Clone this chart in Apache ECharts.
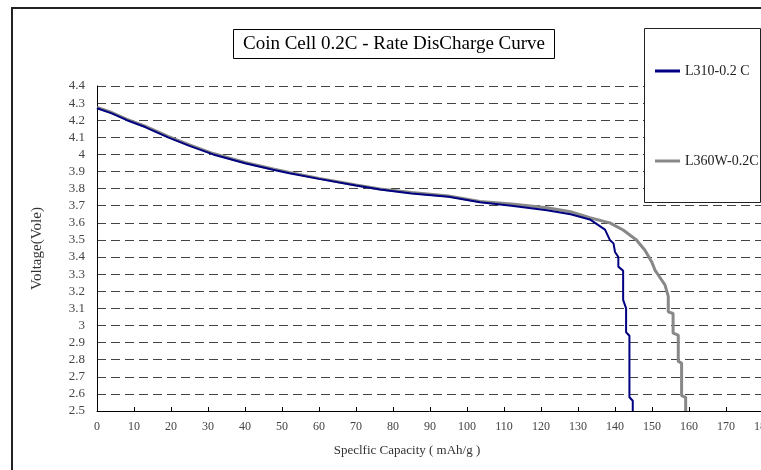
<!DOCTYPE html>
<html>
<head>
<meta charset="utf-8">
<script src="https://cdn.jsdelivr.net/npm/echarts@6/dist/echarts.min.js"></script>
<style>
  html, body { margin: 0; padding: 0; background: #fff; }
  #main { width: 761px; height: 470px; }
</style>
</head>
<body>
<div id="main"></div>
<script>
// 数据
var xTicks = [0, 180, 10];      // min, max, interval
var yTicks = [2.5, 4.4, 0.1];

var seriesNames = ['L310-0.2 C', 'L360W-0.2C'];

var l310Cap  = [0, 4, 8.1, 13, 19.2, 25, 31.4, 40, 47.6, 52, 60, 70, 76.5, 85, 95, 103.5, 112, 121.6, 128, 133.2, 137.3, 138.6, 139.6, 140, 140.9, 140.9, 142.2, 142.2, 143, 143, 143.9, 143.9, 144.8, 144.8];
var l310Volt = [4.27, 4.24, 4.2, 4.16, 4.1, 4.05, 4.0, 3.948, 3.91, 3.89, 3.857, 3.818, 3.795, 3.772, 3.752, 3.72, 3.70, 3.673, 3.65, 3.62, 3.56, 3.5, 3.48, 3.43, 3.40, 3.344, 3.32, 3.15, 3.10, 2.96, 2.94, 2.58, 2.56, 2.5];

var l360Cap  = [0, 4, 8.1, 13, 19.2, 25, 31.4, 40, 47.6, 52, 60, 70, 76.5, 85, 95, 103.5, 112, 121.6, 128, 133.2, 138.6, 142.2, 145.8, 148.1, 149.9, 150.8, 151.7, 152.6, 153.5, 154.4, 154.4, 155.7, 155.7, 157.1, 157.1, 158, 158, 159.1, 159.1];
var l360Volt = [4.275, 4.245, 4.205, 4.165, 4.105, 4.055, 4.005, 3.953, 3.915, 3.895, 3.86, 3.821, 3.798, 3.777, 3.757, 3.725, 3.71, 3.688, 3.665, 3.63, 3.6, 3.558, 3.5, 3.44, 3.373, 3.324, 3.295, 3.266, 3.237, 3.17, 3.08, 3.07, 2.955, 2.944, 2.79, 2.78, 2.59, 2.58, 2.5];

function pairs(xs, ys) {
    var out = [];
    for (var i = 0; i < xs.length; i++) {
        out.push([xs[i], ys[i]]);
    }
    return out;
}

var serif = '"Liberation Serif", "DejaVu Serif", serif';

var myChart = echarts.init(document.getElementById('main'));
var option = {
    backgroundColor: '#fff',
    animation: false,
    title: {
        text: 'Coin Cell 0.2C - Rate DisCharge Curve',
        left: 233,
        top: 29,
        padding: [5, 10, 4, 10],
        borderColor: '#000',
        borderWidth: 1,
        backgroundColor: '#fff',
        textStyle: {
            fontFamily: serif,
            fontSize: 19,
            fontWeight: 'normal',
            color: '#000',
            lineHeight: 21
        }
    },
    legend: {
        orient: 'vertical',
        left: 655,
        top: 64,
        padding: 0,
        icon: 'rect',
        itemWidth: 25,
        itemHeight: 3,
        itemGap: 76,
        z: 6,
        data: seriesNames,
        textStyle: {
            fontFamily: serif,
            fontSize: 14,
            color: '#222'
        }
    },
    graphic: [
        {
            // 外框
            type: 'rect',
            z: 10,
            silent: true,
            shape: { x: 12, y: 8, width: 800, height: 500 },
            style: { fill: null, stroke: '#222', lineWidth: 2 }
        },
        {
            // 图例框
            type: 'rect',
            z: 5,
            silent: true,
            shape: { x: 644.5, y: 28.5, width: 116, height: 174 },
            style: { fill: '#fff', stroke: '#222', lineWidth: 1 }
        }
    ],
    grid: {
        left: 97,
        top: 86,
        right: -2,
        bottom: 59,
        outerBoundsMode: 'none'
    },
    xAxis: {
        type: 'value',
        min: xTicks[0],
        max: xTicks[1],
        interval: xTicks[2],
        name: 'Speclfic Capacity ( mAh/g )',
        nameLocation: 'middle',
        nameGap: 33,
        nameTextStyle: {
            fontFamily: serif,
            fontSize: 13,
            color: '#333',
            padding: [0, 46, 0, 0]
        },
        axisLine: { lineStyle: { color: '#000', width: 1 } },
        axisTick: { inside: true, length: 4, lineStyle: { color: '#000' } },
        axisLabel: {
            fontFamily: serif,
            fontSize: 12,
            color: '#444',
            margin: 10
        },
        splitLine: { show: false }
    },
    yAxis: {
        type: 'value',
        min: yTicks[0],
        max: yTicks[1],
        interval: yTicks[2],
        name: 'Voltage(Vole)',
        nameLocation: 'middle',
        nameGap: 52,
        nameTextStyle: {
            fontFamily: serif,
            fontSize: 15,
            color: '#333'
        },
        axisLine: { show: true, lineStyle: { color: '#000', width: 1 } },
        axisTick: { show: false },
        axisLabel: {
            fontFamily: serif,
            fontSize: 13,
            color: '#444',
            margin: 12
        },
        splitLine: {
            show: true,
            lineStyle: { color: '#444', type: [9, 5], width: 1 }
        }
    },
    series: [
        {
            name: seriesNames[0],
            type: 'line',
            showSymbol: false,
            symbol: 'none',
            z: 3,
            color: '#000080',
            lineStyle: { color: '#000080', width: 2 },
            data: pairs(l310Cap, l310Volt)
        },
        {
            name: seriesNames[1],
            type: 'line',
            showSymbol: false,
            symbol: 'none',
            z: 2,
            color: '#888888',
            lineStyle: { color: '#888888', width: 3 },
            data: pairs(l360Cap, l360Volt)
        }
    ]
};
myChart.setOption(option);
</script>
</body>
</html>
